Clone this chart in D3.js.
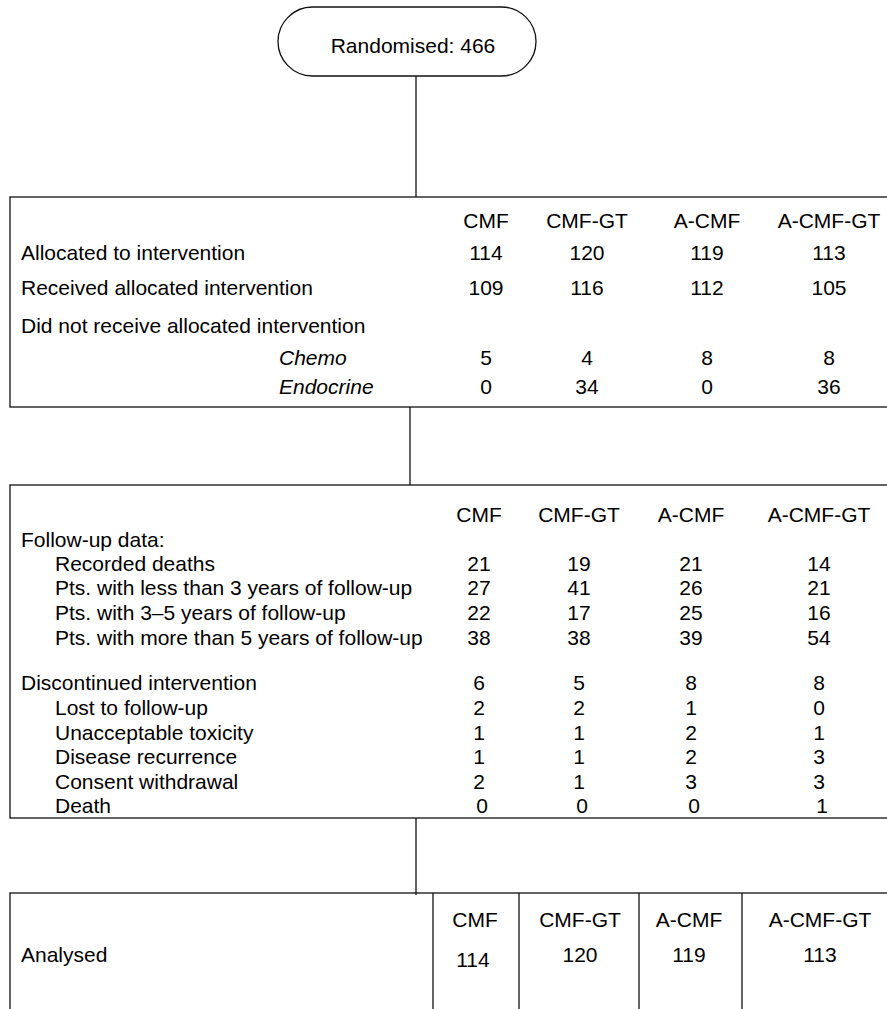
<!DOCTYPE html><html><head><meta charset="utf-8"><script src="https://cdn.jsdelivr.net/npm/d3@7"></script>
<style>body{margin:0;background:#fff}text{font-family:"Liberation Sans",Arial,sans-serif;font-size:21px;fill:#000}</style></head><body><svg id="c" width="887" height="1009" style="display:block"></svg><script>
const groups=["CMF","CMF-GT","A-CMF","A-CMF-GT"];
const randomised=466;
const box1Labels=["Allocated to intervention","Received allocated intervention","Did not receive allocated intervention","Chemo","Endocrine"];
const box1Values=[[114,120,119,113],[109,116,112,105],null,[5,4,8,8],[0,34,0,36]];
const box2Labels=["Follow-up data:","Recorded deaths","Pts. with less than 3 years of follow-up","Pts. with 3–5 years of follow-up","Pts. with more than 5 years of follow-up","Discontinued intervention","Lost to follow-up","Unacceptable toxicity","Disease recurrence","Consent withdrawal","Death"];
const box2Values=[null,[21,19,21,14],[27,41,26,21],[22,17,25,16],[38,38,39,54],[6,5,8,8],[2,2,1,0],[1,1,2,1],[1,1,2,3],[2,1,3,3],[0,0,0,1]];
const analysed=[114,120,119,113];

const svg=d3.select("#c");
const line=(x1,y1,x2,y2)=>svg.append("line").attr("x1",x1).attr("y1",y1).attr("x2",x2).attr("y2",y2).attr("stroke","#111").attr("stroke-width",1.3);
const txt=(x,y,t,a="start",it=false)=>svg.append("text").attr("x",x).attr("y",y).attr("text-anchor",a).style("font-style",it?"italic":"normal").text(t);
const col1=d3.scaleOrdinal().domain(groups).range([486,587,707,829]);
const col2=d3.scaleOrdinal().domain(groups).range([479,579,691,819]);
const col3=d3.scaleOrdinal().domain(groups).range([475,580,689,820]);
// oval
svg.append("rect").attr("x",278).attr("y",7).attr("width",258).attr("height",69).attr("rx",34.5).attr("fill","none").attr("stroke","#111").attr("stroke-width",1.3);
txt(413,53,"Randomised: "+randomised,"middle");
line(416,76,416,197);
// box1
svg.append("rect").attr("x",10).attr("y",197).attr("width",900).attr("height",210).attr("fill","none").attr("stroke","#111").attr("stroke-width",1.3);
groups.forEach(g=>txt(col1(g),228,g,"middle"));
const b1y=[260,295,333,365,394];
box1Labels.forEach((l,i)=>{
  const indent=i>=3;
  txt(indent?279:21,b1y[i],l,"start",indent);
  if(box1Values[i]) box1Values[i].forEach((v,j)=>txt(col1(groups[j]),b1y[i],v,"middle"));
});
line(410,407,410,485);
// box2
svg.append("rect").attr("x",10).attr("y",485).attr("width",900).attr("height",333).attr("fill","none").attr("stroke","#111").attr("stroke-width",1.3);
groups.forEach(g=>txt(col2(g),522,g,"middle"));
const b2y=[547,571,595,620,645,690,715,740,764,789,813];
box2Labels.forEach((l,i)=>{
  const indent=!(i===0||i===5);
  txt(indent?55:21,b2y[i],l);
  if(box2Values[i]) box2Values[i].forEach((v,j)=>txt(col2(groups[j])+(i===10?3:0),b2y[i],v,"middle"));
});
line(416,818,416,895);
// box3
svg.append("rect").attr("x",10).attr("y",893).attr("width",900).attr("height",200).attr("fill","none").attr("stroke","#111").attr("stroke-width",1.3);
[433,519,639,742].forEach(x=>line(x,893,x,1009));
groups.forEach(g=>txt(col3(g),927,g,"middle"));
txt(21,962,"Analysed");
analysed.forEach((v,j)=>txt(col3(groups[j])-(j===0?2:0),j===0?967:962,v,"middle"));
</script></body></html>
